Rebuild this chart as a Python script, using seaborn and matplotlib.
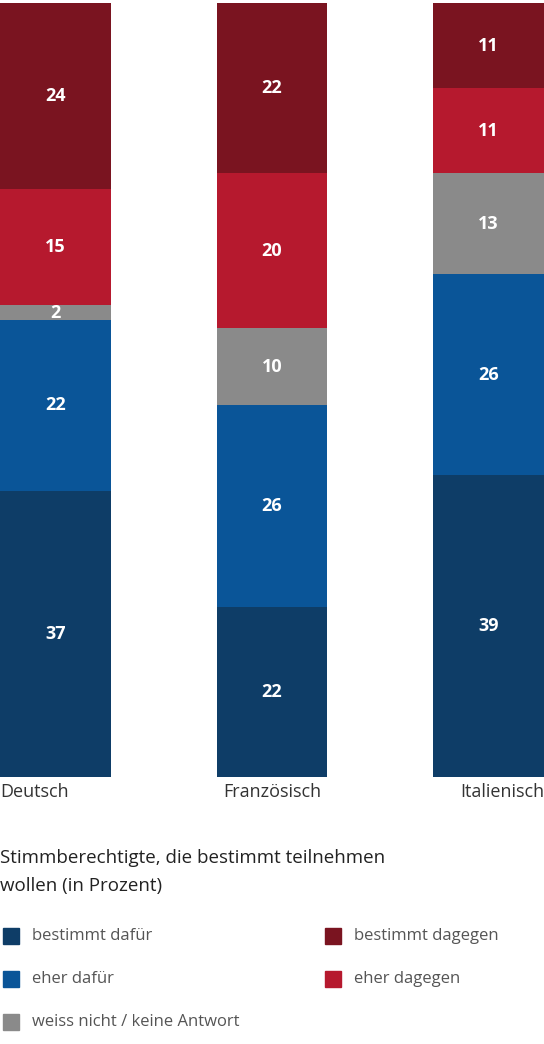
import matplotlib.pyplot as plt
import matplotlib.patches as mpatches
import numpy as np
import pandas as pd
import seaborn as sns

groups = ['Deutsch', 'Französisch', 'Italienisch']
series = ['bestimmt dafür', 'eher dafür', 'weiss nicht / keine Antwort', 'eher dagegen', 'bestimmt dagegen']
bestimmt_dafuer = [37, 22, 39]
eher_dafuer = [22, 26, 26]
weiss_nicht = [2, 10, 13]
eher_dagegen = [15, 20, 11]
bestimmt_dagegen = [24, 22, 11]
values = [bestimmt_dafuer, eher_dafuer, weiss_nicht, eher_dagegen, bestimmt_dagegen]
colors = ['#0e3d67', '#0a5598', '#8a8a8a', '#b6192e', '#7a1420']

sns.set_theme(style='white')
plt.rcParams['font.family'] = ['Open Sans', 'DejaVu Sans']

fig = plt.figure(figsize=(5.44, 10.44), dpi=100)
ax = fig.add_axes([0, 1 - 777 / 1044, 1, (777 - 3) / 1044])

bottom = np.zeros(len(groups))
for name, vals, col in zip(series, values, colors):
    df = pd.DataFrame({'group': groups, 'value': vals})
    sns.barplot(data=df, x='group', y='value', color=col, width=0.51,
                bottom=bottom.copy(), ax=ax, saturation=1, linewidth=0)
    for i, v in enumerate(vals):
        ax.text(i, bottom[i] + v / 2, str(v), ha='center', va='center',
                color='white', fontsize=13, fontweight='bold')
    bottom += np.array(vals)

ax.set_xlim(-0.255, 2.255)
ax.set_ylim(0, 100)
ax.set_xlabel('')
ax.set_ylabel('')
ax.set_yticks([])
ax.tick_params(axis='x', length=0, labelsize=13, pad=4, colors='#333333')
sns.despine(ax=ax, left=True, bottom=True)
labels = ax.get_xticklabels()
labels[0].set_ha('left'); labels[0].set_x(-0.255)
ax.set_xticks([-0.255, 1, 2.255])
ax.set_xticklabels(groups)
ax.get_xticklabels()[0].set_ha('left')
ax.get_xticklabels()[2].set_ha('right')

fig.text(0.0, 1 - 858 / 1044, 'Stimmberechtigte, die bestimmt teilnehmen', fontsize=13.5,
         va='center', color='#222222')
fig.text(0.0, 1 - 886 / 1044, 'wollen (in Prozent)', fontsize=13.5, va='center', color='#222222')

legend_items = [(0, 936, 0), (0, 979, 1), (0, 1022, 2), (322, 936, 4), (322, 979, 3)]
for x0, y0, idx in legend_items:
    fig.patches.append(mpatches.Rectangle(((x0 + 3) / 544, 1 - (y0 + 8) / 1044), 16 / 544, 16 / 1044,
                                          transform=fig.transFigure, color=colors[idx]))
    fig.text((x0 + 32) / 544, 1 - y0 / 1044, series[idx], fontsize=12, va='center', color='#555555')

fig.savefig('out.png', dpi=100)
